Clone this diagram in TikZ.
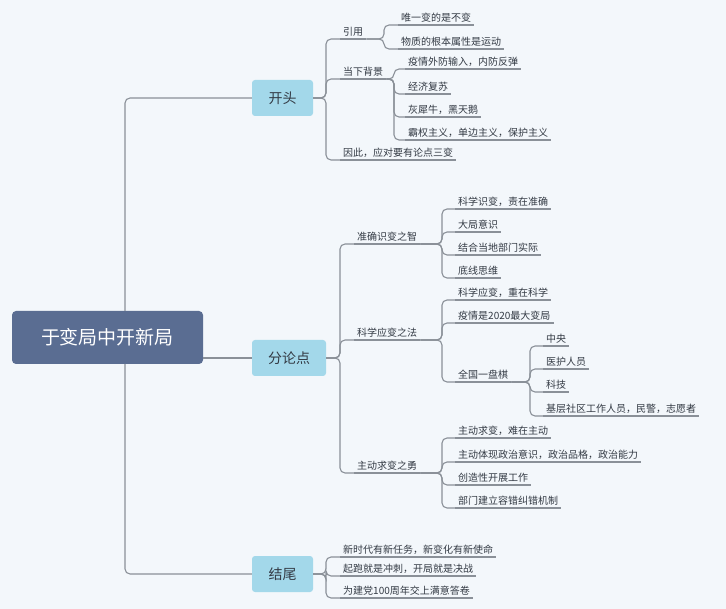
\documentclass[tikz,border=0pt]{standalone}
\usepackage{fontspec}
\setmainfont{Noto Sans CJK SC}
\begin{document}
\begin{tikzpicture}[x=1pt,y=-1pt,
  conn/.style={draw=lineC,line width=1.1pt,rounded corners=5pt},
  leaf/.style={inner xsep=3pt,inner ysep=2pt,font=\fontsize{10}{12}\selectfont,text=textC,anchor=south west},
  lvone/.style={fill=boxB,rounded corners=3pt,minimum height=36pt,font=\fontsize{14}{16}\selectfont,text=textC,inner xsep=0pt}]
\definecolor{bgC}{HTML}{F3F7FB}
\definecolor{lineC}{HTML}{8A9098}
\definecolor{textC}{HTML}{333A44}
\definecolor{boxB}{HTML}{A3D8EA}
\definecolor{rootC}{HTML}{5A6D92}
\fill[bgC] (0,0) rectangle (726,609);
\useasboundingbox (0,0) rectangle (726,609);
% root
\node[fill=rootC,rounded corners=4pt,minimum width=191pt,minimum height=53pt,text=white,font=\fontsize{19}{22}\selectfont] (root) at (107.5,337.5) {于变局中开新局};
\node[lvone,minimum width=61pt] (kt) at (282.5,98) {开头};
\node[lvone,minimum width=74pt] (fl) at (289,358) {分论点};
\node[lvone,minimum width=61pt] (jw) at (282.5,574) {结尾};
\coordinate (rt) at (125,311);
\coordinate (rb) at (125,364);
\draw[conn] (rt) |- (kt.west);
\draw[conn] (rb) |- (jw.west);
\draw[conn] (root.east |- fl.west) -- (fl.west);
% helper macro for leaf
\newcommand{\lf}[4]{\node[leaf] (#1) at (#2,#3) {#4}; \draw[lineC,line width=1.1pt] (#1.south west) -- (#1.south east);}
% 开头
\lf{yy}{340}{39}{引用}
\lf{dx}{340}{79}{当下背景}
\lf{yc}{340}{160}{因此，应对要有论点三变}
\draw[conn] (kt.east) -- (326,98) |- (yy.south west);
\draw[conn] (kt.east) -- (326,98) |- (yc.south west);
\draw[conn] (kt.east) -- (326,98) |- (dx.south west);
\lf{wy}{398}{25}{唯一变的是不变}
\lf{wz}{398}{49}{物质的根本属性是运动}
\draw[conn] (yy.south east) -- (384,39) |- (wy.south west);
\draw[conn] (yy.south east) -- (384,39) |- (wz.south west);
\lf{yq}{405}{69}{疫情外防输入，内防反弹}
\lf{jj}{405}{94}{经济复苏}
\lf{hx}{405}{117}{灰犀牛，黑天鹅}
\lf{bq}{405}{140}{霸权主义，单边主义，保护主义}
\foreach \n in {yq,jj,hx,bq} \draw[conn] (dx.south east) -- (394,79) |- (\n.south west);
% 分论点
\lf{zq}{354}{244}{准确识变之智}
\lf{kx}{354}{340}{科学应变之法}
\lf{zd}{354}{473}{主动求变之勇}
\foreach \n in {zq,kx,zd} \draw[conn] (fl.east) -- (340,358) |- (\n.south west);
\lf{a1}{455}{209}{科学识变，责在准确}
\lf{a2}{455}{232}{大局意识}
\lf{a3}{455}{255}{结合当地部门实际}
\lf{a4}{455}{278}{底线思维}
\foreach \n in {a1,a2,a3,a4} \draw[conn] (zq.south east) -- (442,244) |- (\n.south west);
\lf{b1}{455}{300}{科学应变，重在科学}
\lf{b2}{455}{323}{疫情是2020最大变局}
\lf{b3}{455}{382}{全国一盘棋}
\foreach \n in {b1,b2,b3} \draw[conn] (kx.south east) -- (442,340) |- (\n.south west);
\lf{c1}{543}{346}{中央}
\lf{c2}{543}{369}{医护人员}
\lf{c3}{543}{392}{科技}
\lf{c4}{543}{416}{基层社区工作人员，民警，志愿者}
\foreach \n in {c1,c2,c3,c4} \draw[conn] (b3.south east) -- (530,382) |- (\n.south west);
\lf{d1}{455}{438}{主动求变，难在主动}
\lf{d2}{455}{462}{主动体现政治意识，政治品格，政治能力}
\lf{d3}{455}{485}{创造性开展工作}
\lf{d4}{455}{508}{部门建立容错纠错机制}
\foreach \n in {d1,d2,d3,d4} \draw[conn] (zd.south east) -- (442,473) |- (\n.south west);
% 结尾
\lf{e1}{340}{557}{新时代有新任务，新变化有新使命}
\lf{e2}{340}{576}{起跑就是冲刺，开局就是决战}
\lf{e3}{340}{598}{为建党100周年交上满意答卷}
\foreach \n in {e1,e2,e3} \draw[conn] (jw.east) -- (326,574) |- (\n.south west);
\end{tikzpicture}
\end{document}
